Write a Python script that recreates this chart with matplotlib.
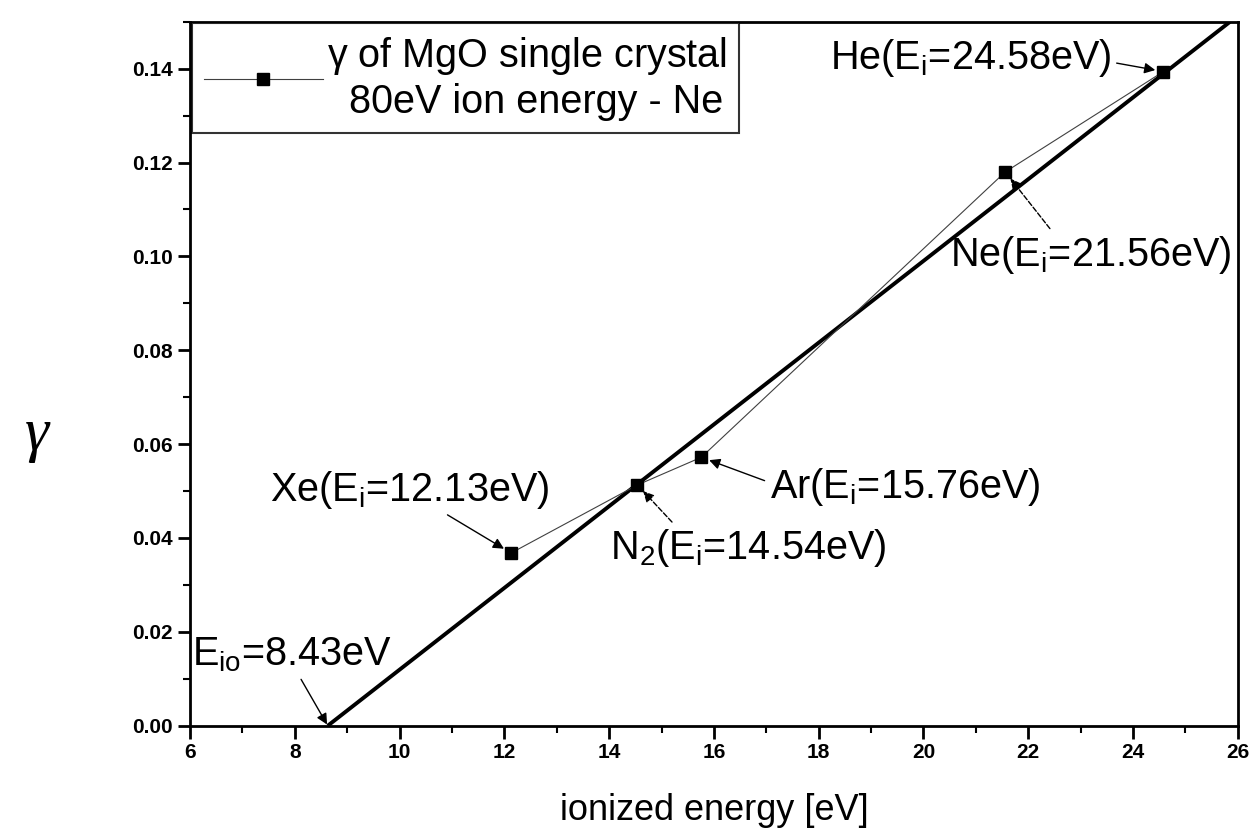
import matplotlib
matplotlib.use("Agg")
import matplotlib.pyplot as plt
from matplotlib.ticker import MultipleLocator, FormatStrFormatter

plt.rcParams['font.family'] = ['Liberation Sans', 'DejaVu Sans']
plt.rcParams['mathtext.default'] = 'regular'

# measured gamma for each gas (ionization energy in eV)
gases = ['Xe', 'N2', 'Ar', 'Ne', 'He']
energy = [12.13, 14.54, 15.76, 21.56, 24.58]
gamma = [0.0368, 0.0513, 0.0572, 0.118, 0.1394]

# linear fit line (threshold E_io)
fit_x = [8.63, 25.85]
fit_y = [0.0, 0.15]

# annotation texts
labels = ['Xe(E$_i$=12.13eV)', 'N$_2$(E$_i$=14.54eV)', 'Ar(E$_i$=15.76eV)',
          'Ne(E$_i$=21.56eV)', 'He(E$_i$=24.58eV)']

fig = plt.figure(figsize=(12.58, 8.38), dpi=100)
ax = fig.add_axes([0.151, 0.134, 0.833, 0.840])

ax.plot(fit_x, fit_y, color='black', lw=2.8, solid_capstyle='butt')
ax.plot(energy, gamma, color='0.25', lw=0.8, marker='s', ms=9,
        mfc='black', mec='black',
        label='$\\gamma$ of MgO single crystal\n  80eV ion energy - Ne')

# text positions / arrow start (relpos) and style for each label
txt_pos = [(7.53, 0.0503), (14.02, 0.0379), (17.07, 0.0509),
           (20.5, 0.1004), (18.21, 0.1423)]
relpos = [(0.61, 0.0), (0.24, 1.0), (0.0, 0.6), (0.37, 1.0), (1.0, 0.4)]
styles = ['-', '--', '-', '--', '-']

for i in range(len(gases)):
    ax.annotate(labels[i], xy=(energy[i], gamma[i]), xytext=txt_pos[i],
                fontsize=28.5, ha='left', va='center',
                arrowprops=dict(arrowstyle='-|>', color='black', lw=1.0,
                                ls=styles[i], relpos=relpos[i],
                                shrinkA=2, shrinkB=6, mutation_scale=16))

ax.annotate('E$_{io}$=8.43eV', xy=(fit_x[0], fit_y[0]), xytext=(6.04, 0.0151),
            fontsize=28.5, ha='left', va='center',
            arrowprops=dict(arrowstyle='-|>', color='black', lw=1.0,
                            relpos=(0.53, 0.0), shrinkA=2, shrinkB=1,
                            mutation_scale=16))

ax.set_xlim(6, 26)
ax.set_ylim(0, 0.15)
ax.xaxis.set_major_locator(MultipleLocator(2))
ax.xaxis.set_minor_locator(MultipleLocator(1))
ax.yaxis.set_major_locator(MultipleLocator(0.02))
ax.yaxis.set_minor_locator(MultipleLocator(0.01))
ax.yaxis.set_major_formatter(FormatStrFormatter('%.2f'))

ax.tick_params(which='major', direction='out', length=9, width=2, labelsize=15)
ax.tick_params(which='minor', direction='out', length=5, width=1.5)
for lab in ax.get_xticklabels() + ax.get_yticklabels():
    lab.set_fontweight('bold')
for s in ax.spines.values():
    s.set_linewidth(2)

ax.set_xlabel('ionized energy [eV]', fontsize=26, labelpad=22)
ax.set_ylabel('$\\gamma$', fontsize=44, rotation=0, va='center',
              family='Liberation Serif', style='italic')
ax.yaxis.set_label_coords(-0.145, 0.41)

leg = ax.legend(loc='upper left', bbox_to_anchor=(0.002, 0.998), borderaxespad=0,
                fontsize=28.5, frameon=True, fancybox=False, handlelength=3.0,
                handletextpad=0.1, borderpad=0.3)
leg.get_frame().set_edgecolor('black')
leg.get_frame().set_linewidth(1.5)

fig.savefig('out.png', dpi=100)
